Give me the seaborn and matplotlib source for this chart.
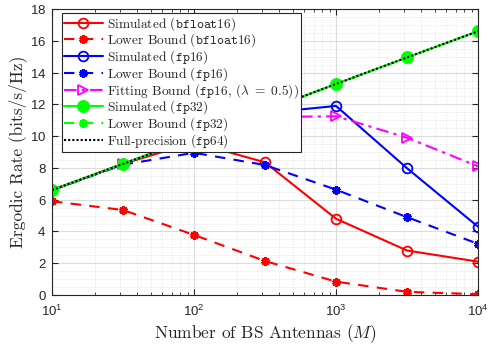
import numpy as np
import pandas as pd
import matplotlib
matplotlib.use("Agg")
import matplotlib.pyplot as plt
import seaborn as sns
from matplotlib.ticker import LogLocator, MultipleLocator, NullFormatter

sns.set_style("ticks")
plt.rcParams['font.family'] = ['cmr10', 'DejaVu Serif']
plt.rcParams['mathtext.fontset'] = 'cm'
plt.rcParams['axes.formatter.use_mathtext'] = True

M = [10, 31.62, 100, 316.2, 1000, 3162, 10000]
sim_bf16 = [6.6, 8.25, 9.6, 8.35, 4.8, 2.8, 2.1]
lb_bf16 = [5.9, 5.35, 3.78, 2.14, 0.84, 0.2, 0.05]
sim_fp16 = [6.6, 8.25, 9.9, 11.45, 11.9, 7.98, 4.3]
lb_fp16 = [6.6, 8.2, 8.95, 8.18, 6.63, 4.9, 3.22]
fit_fp16 = [6.6, 8.25, 9.9, 11.2, 11.25, 9.9, 8.1]
sim_fp32 = [6.6, 8.25, 9.9, 11.6, 13.28, 14.95, 16.6]
lb_fp32 = [6.6, 8.25, 9.9, 11.6, 13.28, 14.95, 16.6]
full_fp64 = [6.6, 8.25, 9.9, 11.6, 13.28, 14.95, 16.6]

labels = [r"Simulated ($\mathtt{bfloat16}$)", r"Lower Bound ($\mathtt{bfloat16}$)",
          r"Simulated ($\mathtt{fp16}$)", r"Lower Bound ($\mathtt{fp16}$)",
          r"Fitting Bound ($\mathtt{fp16},\,(\lambda\ =\ 0.5)$)",
          r"Simulated ($\mathtt{fp32}$)", r"Lower Bound ($\mathtt{fp32}$)",
          r"Full-precision ($\mathtt{fp64}$)"]
series = [sim_bf16, lb_bf16, sim_fp16, lb_fp16, fit_fp16, sim_fp32, lb_fp32, full_fp64]
styles = [
    dict(color="#ff0000", ls="-", marker="o", mfc="none", ms=7, mew=1.3),
    dict(color="#ff0000", ls=(0, (5, 4)), marker=(6, 2, 0), mfc="#ff0000", ms=6, mew=2.2),
    dict(color="#0000ff", ls="-", marker="o", mfc="none", ms=7, mew=1.3),
    dict(color="#0000ff", ls=(0, (5, 4)), marker=(6, 2, 0), mfc="#0000ff", ms=6, mew=2.2),
    dict(color="#ff00ff", ls=(0, (6, 2.5, 1.5, 2.5)), marker=">", mfc="none", ms=7, mew=1.3),
    dict(color="#00ff00", ls="-", marker="o", mfc="#00ff00", ms=8, mew=1.3),
    dict(color="#00ff00", ls=(0, (5, 4)), marker=(6, 2, 0), mfc="#00ff00", ms=6, mew=2.2),
    dict(color="black", ls=(0, (1, 1)), marker=None),
]

fig = plt.figure(figsize=(4.89, 3.46), dpi=100)
ax = fig.add_axes([52/489, 1 - 295/346, (478-52)/489, (295-9)/346])

for lab, ys, st in zip(labels, series, styles):
    df = pd.DataFrame({"M": M, "R": ys})
    st = dict(st)
    color = st.pop("color")
    ls = st.pop("ls")
    marker = st.pop("marker")
    sns.lineplot(data=df, x="M", y="R", ax=ax, color=color, lw=1.5, label=lab,
                 marker=marker, linestyle=ls, markeredgecolor=color, **st)

ax.set_xscale("log")
ax.set_xlim(10, 10000)
ax.set_ylim(0, 18)
ax.yaxis.set_major_locator(MultipleLocator(2))
ax.yaxis.set_minor_locator(MultipleLocator(0.5))
ax.xaxis.set_minor_locator(LogLocator(base=10, subs=np.arange(2, 10)))
ax.xaxis.set_minor_formatter(NullFormatter())
ax.grid(True, which="major", color="#dcdcdc", lw=0.8)
ax.grid(True, which="minor", color="#dcdcdc", lw=0.6, ls=(0, (1, 2)))
ax.set_axisbelow(True)
ax.tick_params(which="both", direction="in", top=True, right=True, colors="#262626")
ax.tick_params(which="major", length=4, labelsize=9.5)
ax.tick_params(axis="x", which="major", pad=6)
ax.tick_params(axis="y", which="major", pad=4)
ax.tick_params(axis="y", which="minor", length=0)
ax.tick_params(axis="x", which="minor", length=2.5)
for lbl in ax.get_xticklabels() + ax.get_yticklabels():
    lbl.set_family(["Liberation Sans", "DejaVu Sans"])
for sp in ax.spines.values():
    sp.set_color("#262626")
    sp.set_linewidth(0.8)

ax.set_xlabel(r"Number of BS Antennas ($M$)", fontsize=12.5)
ax.set_ylabel(r"Ergodic Rate (bits/s/Hz)", fontsize=12.5)
ax.xaxis.set_label_coords(0.5, -(322 - 295) / 286)
ax.yaxis.set_label_coords(-(52 - 27) / 426, 0.5)

leg = ax.legend(loc="upper left", bbox_to_anchor=(10/426, 1 - 4/286), fontsize=9.6,
                frameon=True, fancybox=False,
                edgecolor="#262626", framealpha=1, borderpad=0.15, labelspacing=-0.08,
                handlelength=2.9, handletextpad=0.3, borderaxespad=0.0)
leg.get_frame().set_linewidth(0.8)

fig.savefig("out.png", dpi=100)
